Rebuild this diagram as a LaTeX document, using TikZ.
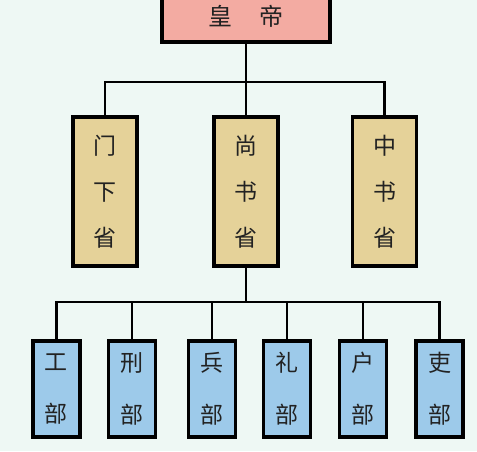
\documentclass[tikz,border=0pt]{standalone}
\usepackage{fontspec}
\newfontfamily\cjk{Noto Sans CJK SC}
\definecolor{bgc}{HTML}{EEF8F4}
\definecolor{pinkc}{HTML}{F3ABA2}
\definecolor{tanc}{HTML}{E5D299}
\definecolor{bluec}{HTML}{9DCAEA}
\definecolor{txtc}{HTML}{222222}
\begin{document}
\begin{tikzpicture}[x=1pt,y=-1pt,
  box/.style={draw=black,line width=3.2pt,inner sep=0pt,text=txtc,align=center},
  emp/.style={box,fill=pinkc,minimum width=168pt,minimum height=52pt,font=\cjk\fontsize{24}{24}\selectfont},
  prov/.style={box,fill=tanc,minimum width=64pt,minimum height=149pt,font=\cjk\fontsize{23}{46}\selectfont},
  dept/.style={box,fill=bluec,minimum width=47pt,minimum height=96pt,font=\cjk\fontsize{23}{52}\selectfont},
  link/.style={line width=2.8pt,black}]
\useasboundingbox (0,0) rectangle (477,451);
\clip (0,0) rectangle (477,451);
\fill[bgc] (0,0) rectangle (477,451);
\node[emp] (hd) at (246,16) {皇\hspace{1.1em}帝};
\node[prov] (mx) at (105,191.5) {门\\下\\省};
\node[prov] (ss) at (246,191.5) {尚\\书\\省};
\node[prov] (zs) at (384.5,191.5) {中\\书\\省};
\node[dept] (gb) at (56.5,389) {工\\部};
\node[dept] (xb) at (132,389) {刑\\部};
\node[dept] (bb) at (212,389) {兵\\部};
\node[dept] (lb) at (287,389) {礼\\部};
\node[dept] (hb) at (363,389) {户\\部};
\node[dept] (lib) at (439.5,389) {吏\\部};
\coordinate (j1) at (246,82);
\coordinate (j2) at (246,302);
\draw[link] (hd.south) -- (j1);
\draw[link] (j1) -| (mx.north);
\draw[link] (j1) -| (zs.north);
\draw[link] (j1) -- (ss.north);
\draw[link] (ss.south) -- (j2);
\draw[link] (j2) -| (gb.north);
\draw[link] (j2) -| (xb.north);
\draw[link] (j2) -| (bb.north);
\draw[link] (j2) -| (lb.north);
\draw[link] (j2) -| (hb.north);
\draw[link] (j2) -| (lib.north);
\end{tikzpicture}
\end{document}
